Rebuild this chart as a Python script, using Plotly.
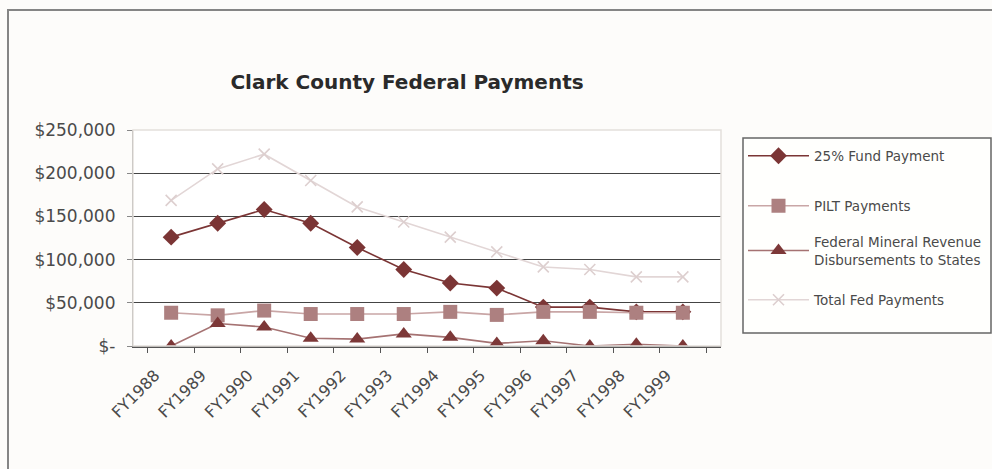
import plotly.graph_objects as go

years = ["FY1988", "FY1989", "FY1990", "FY1991", "FY1992", "FY1993",
         "FY1994", "FY1995", "FY1996", "FY1997", "FY1998", "FY1999"]

fund_25 = [126000, 142000, 158000, 142000, 114000, 88500,
           73000, 67000, 45000, 45000, 39500, 39500]
pilt = [38500, 35500, 41000, 37000, 37000, 37000,
        39500, 36000, 39500, 39500, 38500, 38500]
mineral = [0, 26000, 22000, 9000, 8000, 14000,
           10000, 3000, 6000, 0, 2000, 0]
total = [168500, 205000, 222000, 191500, 161000, 143500,
         126000, 109000, 91500, 88500, 80000, 80000]

y_ticks = [0, 50000, 100000, 150000, 200000, 250000]
y_labels = ["$-", "$50,000", "$100,000", "$150,000", "$200,000", "$250,000"]

FONT = "DejaVu Sans"
TEXT = "#4a4a4a"

# plot area in pixels: left 133, right 721, top 130, bottom 346
L, R, T, B = 133, 721, 130, 346
W, H = R - L, B - T


def px_x(x):
    return (x - L) / W


def px_y(y):
    return 1 - (y - T) / H


fig = go.Figure()

series = [
    ("25% Fund Payment", fund_25, "#7b3535", "#7b3535", "diamond", 13),
    ("PILT Payments", pilt, "#ad8080", "#c9a6a6", "square", 14),
    ("Federal Mineral Revenue<br>Disbursements to States", mineral,
     "#7d3838", "#a57272", "triangle-up", 14),
    ("Total Fed Payments", total, "#ddcfcf", "#e2d6d6", "x-thin", 11),
]

# one legend per entry so each can sit at its own height inside the box
legend_centres = [156, 206, 251, 300]
legend_names = ["legend", "legend2", "legend3", "legend4"]

for (name, vals, mcol, lcol, sym, size), lg in zip(series, legend_names):
    marker = dict(symbol=sym, size=size, color=mcol)
    if sym == "x-thin":
        marker["line"] = dict(color=mcol, width=1.6)
    fig.add_trace(go.Scatter(
        x=years, y=vals, name=name, mode="lines+markers",
        line=dict(color=lcol, width=1.6),
        marker=marker, legend=lg,
    ))

layout_legends = {}
for lg, yc in zip(legend_names, legend_centres):
    layout_legends[lg] = dict(
        x=px_x(743), y=px_y(yc), xanchor="left", yanchor="middle",
        bgcolor="rgba(0,0,0,0)", borderwidth=0,
        font=dict(family=FONT, size=13.5, color=TEXT),
        itemwidth=61,
    )

fig.update_layout(
    width=992, height=469,
    margin=dict(l=L, r=992 - R, t=T, b=469 - B, autoexpand=False),
    paper_bgcolor="#fdfcfa",
    plot_bgcolor="#ffffff",
    font=dict(family=FONT, color=TEXT),
    title=dict(text="<b>Clark County Federal Payments</b>",
               font=dict(family=FONT, size=20, color="#2a2a2a"),
               x=px_x(407), xref="paper", xanchor="center",
               y=1 - 82 / 469, yref="container", yanchor="middle"),
    showlegend=True,
    **layout_legends,
)

fig.update_xaxes(
    type="category", tickangle=-45,
    tickfont=dict(family=FONT, size=16, color=TEXT),
    showline=True, linecolor="#555555", linewidth=1.5,
    ticks="outside", tickson="boundaries", ticklen=5,
    tickcolor="#555555", showgrid=False,
    ticklabelstandoff=12, ticklabelshift=-16,
)
fig.update_yaxes(
    range=[0, 250000], tickvals=y_ticks, ticktext=y_labels,
    tickfont=dict(family=FONT, size=17, color=TEXT),
    showline=True, linecolor="#888888", linewidth=1.2,
    ticks="outside", ticklen=5, tickcolor="#888888",
    showgrid=True, gridcolor="#444444", gridwidth=1.3,
    zeroline=False, ticklabelstandoff=8,
)

# light border around the plot area
fig.add_shape(type="rect", xref="paper", yref="paper",
              x0=0, x1=1, y0=0, y1=1,
              line=dict(color="#e4e0dc", width=1.5), layer="above")
# legend box
fig.add_shape(type="rect", xref="paper", yref="paper",
              x0=px_x(743), x1=px_x(991), y0=px_y(333), y1=px_y(138),
              line=dict(color="#666666", width=1.5), fillcolor="#fffffd",
              layer="below")
# outer frame of the figure
fig.add_shape(type="rect", xref="paper", yref="paper",
              x0=px_x(8), x1=1.5, y0=-1.0, y1=px_y(10),
              line=dict(color="#858585", width=2))

fig.write_html("out.html")
